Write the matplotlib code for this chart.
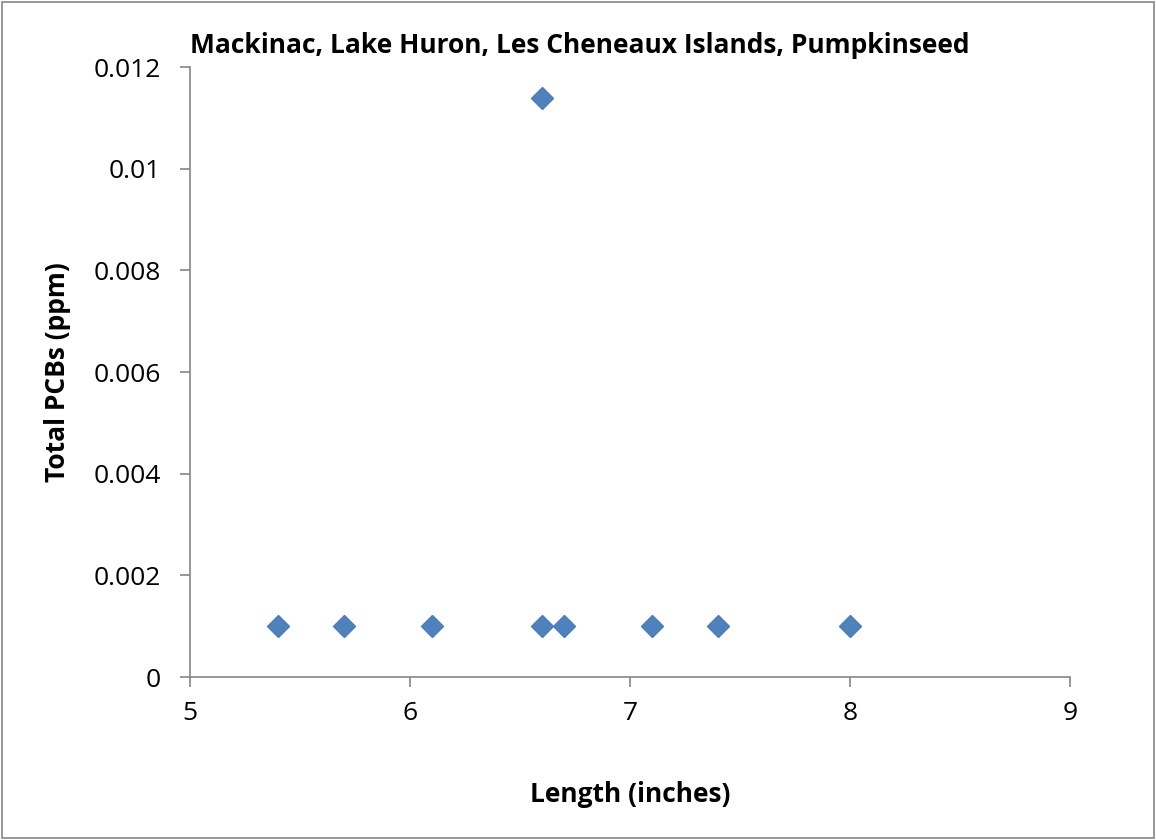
import matplotlib.pyplot as plt
from matplotlib.patches import Rectangle

plt.rcParams['font.family'] = ['Open Sans', 'DejaVu Sans']

length = [5.4, 5.7, 6.1, 6.6, 6.6, 6.7, 7.1, 7.4, 8.0]
pcbs = [0.001, 0.001, 0.001, 0.001, 0.0114, 0.001, 0.001, 0.001, 0.001]
xticks = [5, 6, 7, 8, 9]
yticks = [0, 0.002, 0.004, 0.006, 0.008, 0.01, 0.012]
ylabels = ['0', '0.002', '0.004', '0.006', '0.008', '0.01', '0.012']

fig = plt.figure(figsize=(11.56, 8.4), dpi=100)
ax = fig.add_axes([0.1644, 0.194, 0.7612, 0.726])

ax.plot(length, pcbs, linestyle='none', marker='D', markersize=11,
        color='#4F81BD', markeredgecolor='#4A7EBB')

ax.set_xlim(5, 9)
ax.set_ylim(0, 0.012)
ax.set_xticks(xticks)
ax.set_yticks(yticks)
ax.set_yticklabels(ylabels)
ax.tick_params(labelsize=19, color='#868686', length=7, width=1.2)
ax.tick_params(axis='x', pad=10)
ax.tick_params(axis='y', pad=14)
for s in ['top', 'right']:
    ax.spines[s].set_visible(False)
for s in ['left', 'bottom']:
    ax.spines[s].set_color('#868686')
    ax.spines[s].set_linewidth(1.2)

ax.set_xlabel('Length (inches)', fontsize=19, fontweight='bold', labelpad=40)
ax.set_ylabel('Total PCBs (ppm)', fontsize=19, fontweight='bold', labelpad=16)
fig.text(0.164, 0.946, 'Mackinac, Lake Huron, Les Cheneaux Islands, Pumpkinseed',
         fontsize=19, fontweight='bold', va='center', ha='left')

fig.patches.append(Rectangle((0.002, 0.002), 0.996, 0.996, transform=fig.transFigure,
                             fill=False, edgecolor='#868686', linewidth=1.2))

fig.savefig('out.png', dpi=100)
